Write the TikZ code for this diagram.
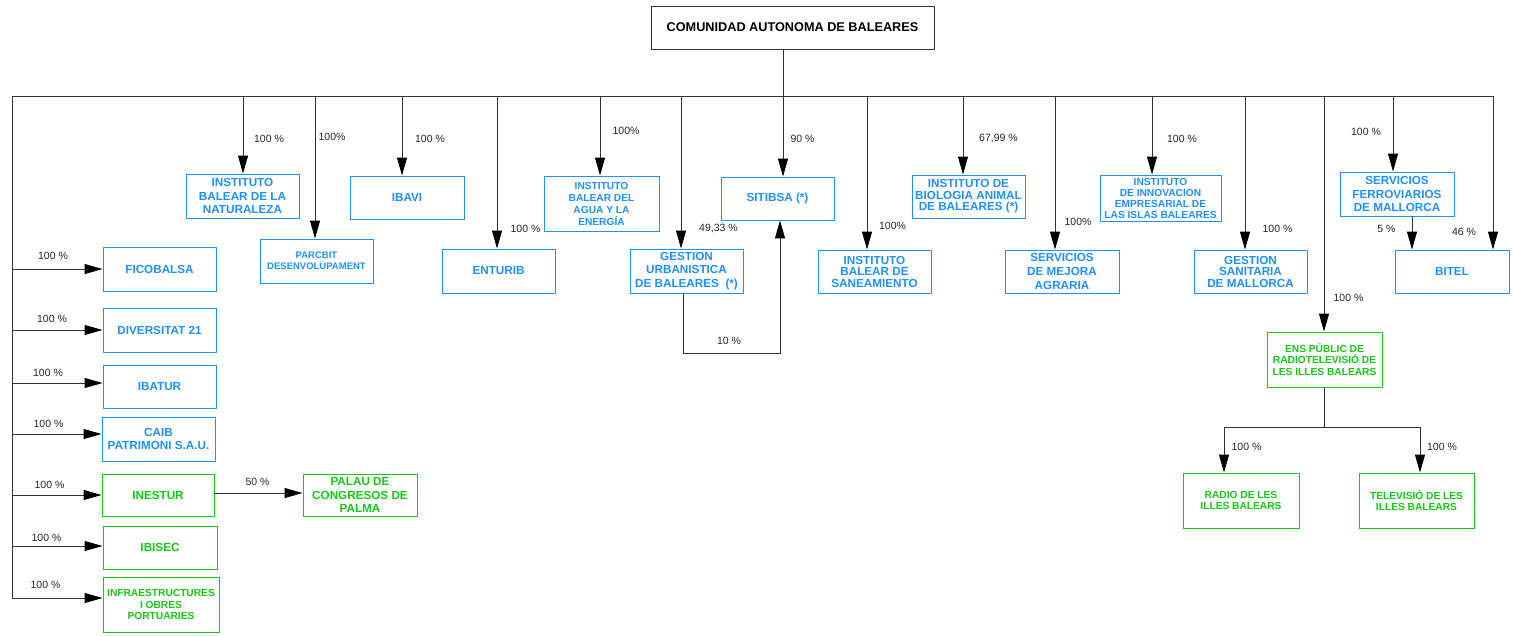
\documentclass[tikz,border=0pt]{standalone}
\usepackage{fontspec}
\setmainfont{Liberation Sans}
\usetikzlibrary{arrows.meta}
\definecolor{caibblue}{RGB}{30,144,255}
\definecolor{caibgreen}{RGB}{22,200,22}
\newcommand{\boxfont}[2]{\fontsize{#1}{#2}\selectfont\bfseries}
\begin{document}
\begin{tikzpicture}[x=1pt, y=-1pt,
    unit/.style={draw=caibblue, text=caibblue, line width=0.9pt, align=center, inner sep=0pt,
      minimum width=113, minimum height=44, font=\boxfont{11.7}{13.8}},
    unitg/.style={unit, draw=caibgreen, text=caibgreen},
    pct/.style={font=\fontsize{10.5}{12}\selectfont, text=black!85, inner sep=0pt},
    link/.style={draw=black!80, line width=0.9pt},
    arr/.style={link, -{Triangle[length=18pt,width=10pt,color=black]}}]
    \useasboundingbox (0,0) rectangle (1513,635);

    \node[unit, minimum width=283, minimum height=43, draw=black!80, text=black,
      font=\boxfont{12.7}{15}] (top) at (792.5,27.5) {COMUNIDAD AUTONOMA DE BALEARES};

    \node[unit] (nat) at (242.5,196) {INSTITUTO\\BALEAR DE LA\\NATURALEZA};
    \node[unit, font=\boxfont{9.5}{10.7}] (parc) at (316.5,261) {PARCBIT\\DESENVOLUPAMENT};
    \node[unit, minimum width=114, minimum height=43] (ibavi) at (407,197.5) {IBAVI};
    \node[unit] (enturib) at (498.5,271) {ENTURIB};
    \node[unit, minimum width=115, minimum height=55, font=\boxfont{10.2}{12}] (agua) at (601.5,203.5) {INSTITUTO\\BALEAR DEL\\AGUA Y LA\\ENERGÍA};
    \node[unit] (gestu) at (686.5,271) {GESTION\\URBANISTICA\\DE BALEARES~~(*)};
    \node[unit, minimum height=43] (sitibsa) at (777.5,198.5) {SITIBSA (*)};
    \node[unit, minimum height=43, font=\boxfont{11.7}{11.5}] (sanea) at (874.5,271.5) {INSTITUTO\\BALEAR DE\\SANEAMIENTO};
    \node[unit, minimum height=43, font=\boxfont{11.7}{11.5}] (bio) at (968.5,196.5) {INSTITUTO DE\\BIOLOGIA ANIMAL\\DE BALEARES (*)};
    \node[unit, minimum width=114, minimum height=43] (mejora) at (1062,271.5) {SERVICIOS\\DE MEJORA\\AGRARIA};
    \node[unit, minimum width=121, minimum height=46, font=\boxfont{10.2}{11}] (innov) at (1160.5,198) {INSTITUTO\\DE INNOVACION\\EMPRESARIAL DE\\LAS ISLAS BALEARES};
    \node[unit, minimum height=43, font=\boxfont{11.7}{11.5}] (sanit) at (1250.5,271.5) {GESTION\\SANITARIA\\DE MALLORCA};
    \node[unit, minimum width=114] (ferro) at (1397,194) {SERVICIOS\\FERROVIARIOS\\DE MALLORCA};
    \node[unit, minimum width=114, minimum height=43] (bitel) at (1452,271.5) {BITEL};

    \node[unitg, minimum width=115, minimum height=55, font=\boxfont{10.2}{11.8}] (ens) at (1324.5,359.5) {ENS PÚBLIC DE\\RADIOTELEVISIÓ DE\\LES ILLES BALEARS};
    \node[unitg, minimum width=116, minimum height=55, font=\boxfont{10.2}{11.8}] (radio) at (1241,500.5) {RADIO DE LES\\ILLES BALEARS};
    \node[unitg, minimum width=115, minimum height=55, font=\boxfont{10.2}{11.8}] (tele) at (1416.5,500.5) {TELEVISIÓ DE LES\\ILLES BALEARS};

    \node[unit] (fico) at (159.5,269) {FICOBALSA};
    \node[unit] (diver) at (159.5,330) {DIVERSITAT 21};
    \node[unit, minimum height=43] (ibatur) at (159.5,386.5) {IBATUR};
    \node[unit] (caib) at (158.5,439) {CAIB\\PATRIMONI S.A.U.};
    \node[unitg, minimum width=112, minimum height=42] (inestur) at (158,495) {INESTUR};
    \node[unitg, minimum width=114, minimum height=42] (palau) at (360,495) {PALAU DE\\CONGRESOS DE\\PALMA};
    \node[unitg, minimum width=114, minimum height=43] (ibisec) at (160,547.5) {IBISEC};
    \node[unitg, minimum width=116, minimum height=55, font=\boxfont{10.2}{11.8}] (infra) at (161,604.5) {INFRAESTRUCTURES\\I OBRES\\PORTUARIES};

    \coordinate (busl) at (12,96);
    \coordinate (busr) at (1494,96);
    \draw[link] (top.south -| 783,0) -- (783,96);
    \draw[link] (busl) -- (busr);
    \draw[link] (busl) -- (12,598);
    \foreach \bx/\n in {243/nat, 315/parc, 402/ibavi, 497/enturib, 600/agua, 681/gestu, 783/sitibsa, 867/sanea,
        963/bio, 1055/mejora, 1152/innov, 1245/sanit, 1324/ens, 1393/ferro, 1493/bitel}
        \draw[arr] (\bx,96) -- (\n.north -| \bx,0);
    \foreach \y/\n in {269/fico, 330/diver, 383/ibatur, 434/caib, 495/inestur, 546/ibisec, 598/infra}
        \draw[arr] (12,\y) -- (\n.west |- 0,\y);
    \draw[arr] (gestu.south -| 683,0) -- (683,353) -- (780,353) -- (sitibsa.south -| 780,0);
    \draw[arr] (inestur.east |- 0,493) -- (palau.west |- 0,493);
    \draw[arr] (ferro.south -| 1412,0) -- (bitel.north -| 1412,0);
    \draw[link] (ens.south -| 1324,0) -- (1324,427);
    \draw[link] (1224,427) -- (1420,427);
    \draw[arr] (1224,427) -- (radio.north -| 1224,0);
    \draw[arr] (1420,427) -- (tele.north -| 1420,0);

    \foreach \x/\y/\t [count=\i] in {269/139/100 \%, 332/137/100\%, 430/139/100 \%, 525.5/229/100 \%,
        626/131/100\%, 718.5/229/{49,33 \%}, 802.5/139/90 \%, 892.5/226/100\%, 998.5/139/{67,99 \%},
        1078/222/100\%, 1182/139/100 \%, 1277.5/229/100 \%, 1348.5/298/100 \%, 1366/132/100 \%,
        1464/232/46 \%, 1386.5/229/5 \%, 729/341/10 \%, 257.5/482/50 \%, 1246.5/447/100 \%, 1442/447/100 \%,
        53/256/100 \%, 52/319/100 \%, 48/373/100 \%, 48.5/424/100 \%, 49.5/485/100 \%, 46.5/538/100 \%, 45.5/585/100 \%}
        \node[pct] (p\i) at (\x,\y) {\t};
\end{tikzpicture}
\end{document}
